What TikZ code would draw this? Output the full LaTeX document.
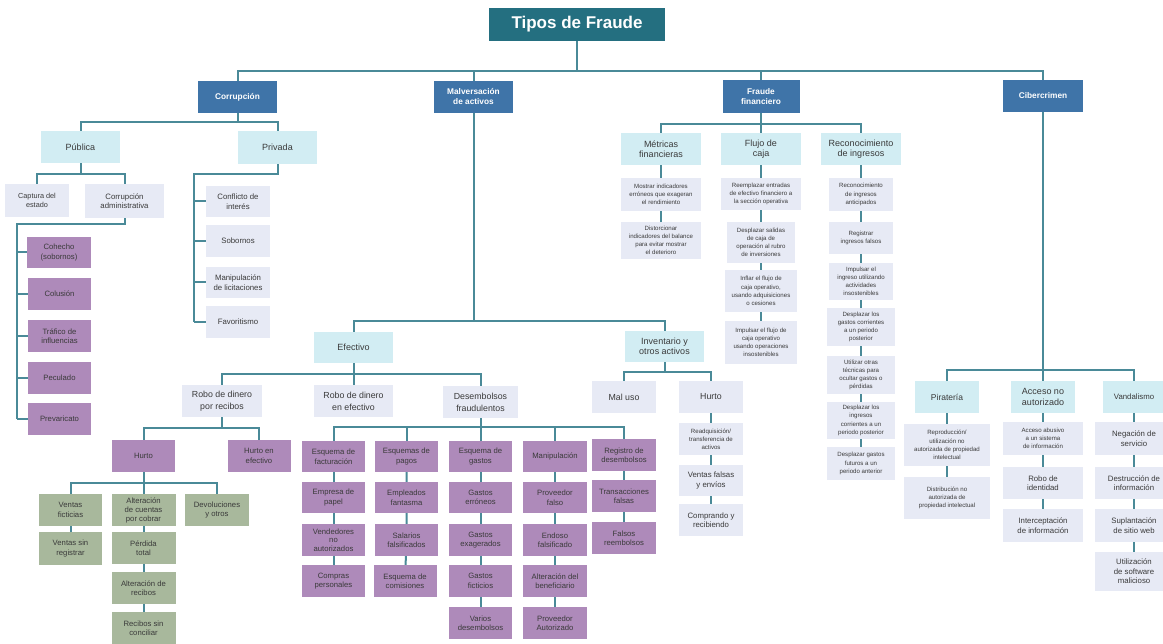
\documentclass[tikz,border=0pt]{standalone}
\usepackage{fontspec}
\setmainfont{Liberation Sans}
\usepackage{tikz}

\definecolor{tipo}{HTML}{246F80}
\definecolor{azul}{HTML}{3F74A8}
\definecolor{celeste}{HTML}{D2EDF3}
\definecolor{lila}{HTML}{E7EAF5}
\definecolor{morado}{HTML}{AE8ABA}
\definecolor{verde}{HTML}{A8B89C}
\definecolor{linea}{HTML}{4A8A98}
\definecolor{gris}{HTML}{3A3A3A}

\begin{document}
\begin{tikzpicture}[x=1pt, y=-1pt,
    every node/.style={inner sep=1pt, align=center, text=gris},
    sz/.style 2 args={minimum width=#1, minimum height=#2},
    ttl/.style={fill=tipo, text=white, font=\bfseries\fontsize{17}{20}\selectfont},
    cat/.style={fill=azul, text=white, font=\bfseries\fontsize{8.3}{10}\selectfont},
    sub/.style={fill=celeste, font=\fontsize{9}{10.5}\selectfont},
    hoja/.style={fill=lila, font=\fontsize{7.8}{9.5}\selectfont},
    chica/.style={fill=lila, font=\fontsize{6.1}{8.2}\selectfont},
    mor/.style={fill=morado, font=\fontsize{7.7}{9.5}\selectfont},
    ver/.style={fill=verde, font=\fontsize{7.7}{9.5}\selectfont},
    ln/.style={draw=linea, line width=2pt}]
  \fill[white] (0,0) rectangle (1163,644);
  \useasboundingbox (0,0) rectangle (1163,644); %%% same frame as the 1163x644 picture

  %%% raiz y categorias
  \node[ttl, sz={176}{33}] (tipos) at (577,24.5) {Tipos de Fraude};
  \node[cat, sz={79}{32}] (corr) at (237.5,97) {Corrupción};
  \node[cat, sz={79}{32}] (malv) at (473.5,97) {Malversación\\de activos};
  \node[cat, sz={77}{33}] (ffin) at (761,96.5) {Fraude\\financiero};
  \node[cat, sz={80}{32}] (cib) at (1043,96) {Cibercrimen};

  %%% corrupcion
  \node[sub, sz={79}{32}] (pub) at (80.5,147) {Pública};
  \node[sub, sz={79}{33}] (priv) at (277.5,147.5) {Privada};
  \node[hoja, sz={64}{33}, font=\fontsize{7.3}{9.5}\selectfont] (capt) at (37,200.5) {Captura del\\estado};
  \node[hoja, sz={79}{34}] (cadm) at (124.5,201) {Corrupción\\administrativa};
  \node[mor, sz={64}{31}] (cohe) at (59,252.5) {Cohecho\\(sobornos)};
  \node[mor, sz={63}{32}] (colu) at (59.5,294) {Colusión};
  \node[mor, sz={63}{32}] (traf) at (59.5,336) {Tráfico de\\influencias};
  \node[mor, sz={63}{32}] (pecu) at (59.5,378) {Peculado};
  \node[mor, sz={63}{32}] (prev) at (59.5,419) {Prevaricato};
  \node[hoja, sz={64}{31}] (conf) at (238,201.5) {Conflicto de\\interés};
  \node[hoja, sz={64}{32}] (sobo) at (238,241) {Sobornos};
  \node[hoja, sz={64}{31}] (lici) at (238,282.5) {Manipulación\\de licitaciones};
  \node[hoja, sz={64}{32}] (favo) at (238,322) {Favoritismo};

  %%% malversacion de activos
  \node[sub, sz={79}{31}] (efec) at (353.5,347.5) {Efectivo};
  \node[sub, sz={79}{31}] (inve) at (664.5,346.5) {Inventario y\\otros activos};
  \node[hoja, sz={80}{32}, font=\fontsize{8.8}{12}\selectfont] (rrec) at (222,401) {Robo de dinero\\por recibos};
  \node[hoja, sz={79}{32}, font=\fontsize{8.8}{12}\selectfont] (refe) at (353.5,401) {Robo de dinero\\en efectivo};
  \node[hoja, sz={75}{32}, font=\fontsize{8.8}{12}\selectfont] (dese) at (480.5,402) {Desembolsos\\fraudulentos};
  \node[mor, sz={63}{32}] (hurt) at (143.5,456) {Hurto};
  \node[mor, sz={63}{32}] (hefe) at (259,456) {Hurto en\\efectivo};
  \node[ver, sz={63}{32}] (vfic) at (70.5,510) {Ventas\\ficticias};
  \node[ver, sz={64}{32}, font=\fontsize{7.7}{9}\selectfont] (altc) at (143.5,510) {Alteración\\de cuentas\\por cobrar};
  \node[ver, sz={64}{32}] (devo) at (217,510) {Devoluciones\\y otros};
  \node[ver, sz={63}{33}] (vsin) at (70.5,548.5) {Ventas sin\\registrar};
  \node[ver, sz={64}{32}] (perd) at (143.5,548) {Pérdida\\total};
  \node[ver, sz={64}{32}] (altr) at (143.5,588) {Alteración de\\recibos};
  \node[ver, sz={64}{32}] (rsin) at (143.5,628) {Recibos sin\\conciliar};
  %% desembolsos, five columns
  \node[mor, sz={63}{31}] (efac) at (333.5,456.5) {Esquema de\\facturación};
  \node[mor, sz={63}{31}] (epap) at (333.5,497.5) {Empresa de\\papel};
  \node[mor, sz={63}{32}, font=\fontsize{7.7}{8.6}\selectfont] (vend) at (333.5,540) {Vendedores\\no\\autorizados};
  \node[mor, sz={63}{32}] (cper) at (333.5,581) {Compras\\personales};
  \node[mor, sz={63}{31}] (epag) at (406.5,456.5) {Esquemas de\\pagos};
  \node[mor, sz={63}{31}] (efan) at (406.5,497.5) {Empleados\\fantasma};
  \node[mor, sz={63}{32}] (sfal) at (406.5,540) {Salarios\\falsificados};
  \node[mor, sz={63}{32}] (ecom) at (405,581) {Esquema de\\comisiones};
  \node[mor, sz={63}{31}] (egas) at (480.5,456.5) {Esquema de\\gastos};
  \node[mor, sz={63}{31}] (gerr) at (480.5,497.5) {Gastos\\erróneos};
  \node[mor, sz={63}{32}] (gexa) at (480.5,540) {Gastos\\exagerados};
  \node[mor, sz={63}{32}] (gfic) at (480.5,581) {Gastos\\ficticios};
  \node[mor, sz={63}{32}] (vdes) at (480.5,623) {Varios\\desembolsos};
  \node[mor, sz={64}{31}] (mani) at (555,456.5) {Manipulación};
  \node[mor, sz={64}{31}] (pfal) at (555,497.5) {Proveedor\\falso};
  \node[mor, sz={64}{32}] (endo) at (555,540) {Endoso\\falsificado};
  \node[mor, sz={64}{32}] (aben) at (555,581) {Alteración del\\beneficiario};
  \node[mor, sz={64}{32}] (paut) at (555,623) {Proveedor\\Autorizado};
  \node[mor, sz={64}{32}] (rdes) at (624,455) {Registro de\\desembolsos};
  \node[mor, sz={64}{32}] (tfal) at (624,496) {Transacciones\\falsas};
  \node[mor, sz={64}{32}] (frem) at (624,538) {Falsos\\reembolsos};
  %% inventario
  \node[hoja, sz={64}{32}, font=\fontsize{8.8}{10.5}\selectfont] (maluso) at (624,397) {Mal uso};
  \node[hoja, sz={64}{32}, font=\fontsize{8.8}{10.5}\selectfont] (hinv) at (711,397) {Hurto};
  \node[chica, sz={64}{32}] (read) at (711,439) {Readquisición/\\transferencia de\\activos};
  \node[hoja, sz={64}{31}] (vfal) at (711,480.5) {Ventas falsas\\y envíos};
  \node[hoja, sz={64}{32}] (comp) at (711,520) {Comprando y\\recibiendo};

  %%% fraude financiero
  \node[sub, sz={80}{32}] (metr) at (661,149) {Métricas\\financieras};
  \node[sub, sz={80}{32}] (fluj) at (761,149) {Flujo de\\caja};
  \node[sub, sz={80}{32}] (reco) at (861,149) {Reconocimiento\\de ingresos};
  \node[chica, sz={80}{33}] (met1) at (661,194.5) {Mostrar indicadores\\erróneos que exageran\\el rendimiento};
  \node[chica, sz={80}{37}] (met2) at (661,240.5) {Distorcionar\\indicadores del balance\\para evitar mostrar\\el deterioro};
  \node[chica, sz={80}{32}] (flu1) at (761,194) {Reemplazar entradas\\de efectivo financiero a\\la sección operativa};
  \node[chica, sz={68}{41}] (flu2) at (761,242.5) {Desplazar salidas\\de caja de\\operación al rubro\\de inversiones};
  \node[chica, sz={72}{42}] (flu3) at (761,291) {Inflar el flujo de\\caja operativo,\\usando adquisiciones\\o cesiones};
  \node[chica, sz={72}{43}] (flu4) at (761,342.5) {Impulsar el flujo de\\caja operativo\\usando operaciones\\insostenibles};
  \node[chica, sz={64}{33}] (rec1) at (861,194.5) {Reconocimiento\\de ingresos\\anticipados};
  \node[chica, sz={64}{32}] (rec2) at (861,238) {Registrar\\ingresos falsos};
  \node[chica, sz={64}{37}] (rec3) at (861,281.5) {Impulsar el\\ingreso utilizando\\actividades\\insostenibles};
  \node[chica, sz={68}{38}] (rec4) at (861,327) {Desplazar los\\gastos corrientes\\a un periodo\\posterior};
  \node[chica, sz={68}{38}] (rec5) at (861,375) {Utilizar otras\\técnicas para\\ocultar gastos o\\pérdidas};
  \node[chica, sz={68}{37}] (rec6) at (861,420.5) {Desplazar los\\ingresos\\corrientes a un\\periodo posterior};
  \node[chica, sz={68}{33}] (rec7) at (861,463.5) {Desplazar gastos\\futuros a un\\periodo anterior};

  %%% cibercrimen
  \node[sub, sz={64}{32}, font=\fontsize{8.5}{10}\selectfont] (pira) at (947,397) {Piratería};
  \node[sub, sz={64}{32}] (acce) at (1043,397) {Acceso no\\autorizado};
  \node[sub, sz={62}{32}, font=\fontsize{7.8}{9.5}\selectfont] (vand) at (1134,397) {Vandalismo};
  \node[chica, sz={86}{42}] (pir1) at (947,445) {Reproducción/\\utilización no\\autorizada de propiedad\\intelectual};
  \node[chica, sz={86}{42}] (pir2) at (947,498) {Distribución no\\autorizada de\\propiedad intelectual};
  \node[chica, sz={80}{33}] (acc1) at (1043,438.5) {Acceso abusivo\\a un sistema\\de información};
  \node[hoja, sz={80}{32}] (acc2) at (1043,483) {Robo de\\identidad};
  \node[hoja, sz={80}{33}] (acc3) at (1043,525.5) {Interceptación\\de información};
  \node[hoja, sz={78}{33}] (van1) at (1134,438.5) {Negación de\\servicio};
  \node[hoja, sz={78}{32}] (van2) at (1134,483) {Destrucción de\\información};
  \node[hoja, sz={78}{33}] (van3) at (1134,525.5) {Suplantación\\de sitio web};
  \node[hoja, sz={78}{39}] (van4) at (1134,571.5) {Utilización\\de software\\malicioso};

  %%% conectores
  \coordinate (b0) at (577,71);
  \draw[ln] (tipos) -- (b0);
  \draw[ln] (corr.north) |- (b0) -| (cib.north);
  \draw[ln] (malv.north) -- (malv.north |- b0);
  \draw[ln] (ffin.north) -- (ffin.north |- b0);

  \draw[ln] (corr.south) -- ++(0,9) coordinate (b1);
  \draw[ln] (pub.north) |- (b1) -| (priv.north);
  \draw[ln] (pub.south) -- ++(0,11) coordinate (b2);
  \draw[ln] (capt.north) |- (b2) -| (cadm.north);
  \coordinate (r1) at (17,0);
  \draw[ln] (cadm.south) -- ++(0,6) -| (prev.west -| r1);
  \foreach \n in {cohe,colu,traf,pecu,prev} \draw[ln] (\n.west) -- (\n.west -| r1);
  \coordinate (r2) at (194,0);
  \draw[ln] (priv.south) -- ++(0,10) -| (favo.west -| r2);
  \foreach \n in {conf,sobo,lici,favo} \draw[ln] (\n.west) -- (\n.west -| r2);

  \coordinate (b3) at (473.5,321);
  \draw[ln] (malv) -- (b3);
  \draw[ln] (efec.north) |- (b3) -| (inve.north);
  \draw[ln] (efec.south) -- ++(0,11) coordinate (b4);
  \draw[ln] (rrec.north) |- (b4) -| (dese.north);
  \draw[ln] (b4) -- (refe.north);
  \draw[ln] (rrec.south) -- ++(0,11) coordinate (b5);
  \draw[ln] (hurt.north) |- (b5) -| (hefe.north);
  \draw[ln] (hurt.south) -- ++(0,11) coordinate (b6);
  \draw[ln] (vfic.north) |- (b6) -| (devo.north);
  \draw[ln] (b6) -- (altc.north);
  \draw[ln] (vfic) -- (vsin);
  \draw[ln] (altc) -- (perd) -- (altr) -- (rsin);
  \draw[ln] (dese.south) -- ++(0,9) coordinate (b7);
  \draw[ln] (efac.north) |- (b7) -| (rdes.north);
  \foreach \n in {epag,egas,mani} \draw[ln] (\n.north) -- (\n.north |- b7);
  \draw[ln] (efac) -- (epap) -- (vend) -- (cper);
  \draw[ln] (epag) -- (efan) -- (sfal) -- (ecom);
  \draw[ln] (egas) -- (gerr) -- (gexa) -- (gfic) -- (vdes);
  \draw[ln] (mani) -- (pfal) -- (endo) -- (aben) -- (paut);
  \draw[ln] (rdes) -- (tfal) -- (frem);
  \draw[ln] (inve.south) -- ++(0,10) coordinate (b8);
  \draw[ln] (maluso.north) |- (b8) -| (hinv.north);
  \draw[ln] (hinv) -- (read) -- (vfal) -- (comp);

  \draw[ln] (ffin.south) -- ++(0,11) coordinate (b9);
  \draw[ln] (metr.north) |- (b9) -| (reco.north);
  \draw[ln] (b9) -- (fluj.north);
  \draw[ln] (metr) -- (met1) -- (met2);
  \draw[ln] (fluj) -- (flu1) -- (flu2) -- (flu3) -- (flu4);
  \draw[ln] (reco) -- (rec1) -- (rec2) -- (rec3) -- (rec4) -- (rec5) -- (rec6) -- (rec7);

  \coordinate (b10) at (1043,370);
  \draw[ln] (cib) -- (b10);
  \draw[ln] (pira.north) |- (b10) -| (vand.north);
  \draw[ln] (b10) -- (acce.north);
  \draw[ln] (pira) -- (pir1) -- (pir2);
  \draw[ln] (acce) -- (acc1) -- (acc2) -- (acc3);
  \draw[ln] (vand) -- (van1) -- (van2) -- (van3) -- (van4);
\end{tikzpicture}
\end{document}
